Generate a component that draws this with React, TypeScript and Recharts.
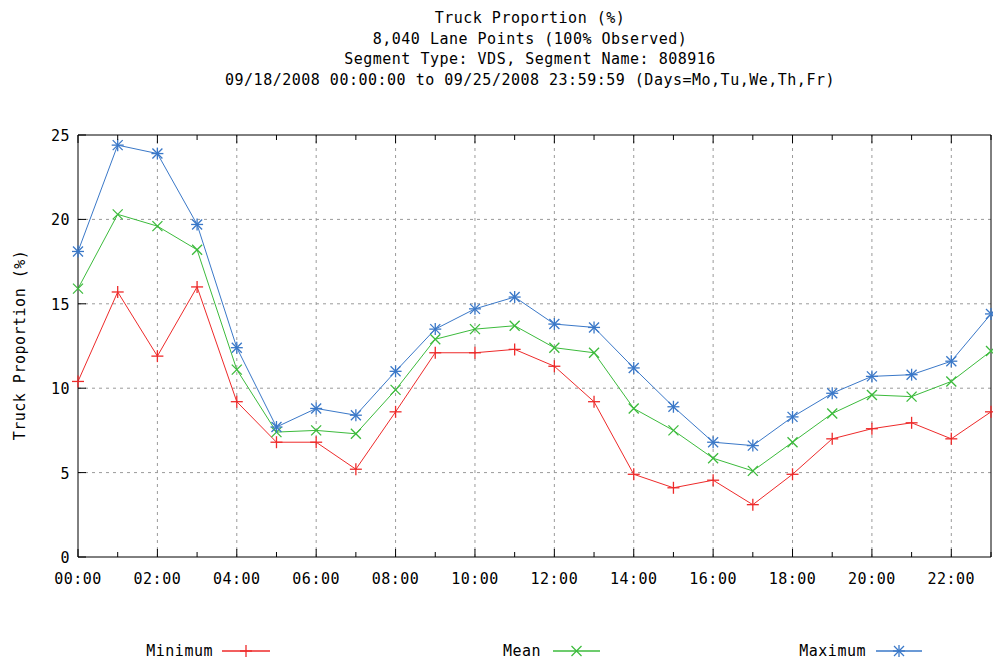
import React from 'react';
import { LineChart, Line, XAxis, YAxis, ReferenceLine } from 'recharts';

const hours = [0, 1, 2, 3, 4, 5, 6, 7, 8, 9, 10, 11, 12, 13, 14, 15, 16, 17, 18, 19, 20, 21, 22, 23];
const minimum = [10.4, 15.7, 11.9, 16.0, 9.2, 6.8, 6.8, 5.2, 8.6, 12.1, 12.1, 12.3, 11.3, 9.2, 4.9, 4.1, 4.55, 3.1, 4.9, 7.0, 7.6, 7.95, 7.0, 8.6];
const mean = [15.9, 20.3, 19.6, 18.2, 11.1, 7.4, 7.5, 7.3, 9.9, 12.9, 13.5, 13.7, 12.4, 12.1, 8.8, 7.5, 5.85, 5.1, 6.8, 8.5, 9.6, 9.5, 10.4, 12.2];
const maximum = [18.1, 24.4, 23.9, 19.7, 12.4, 7.7, 8.8, 8.4, 11.0, 13.5, 14.7, 15.4, 13.8, 13.6, 11.2, 8.9, 6.8, 6.6, 8.3, 9.7, 10.7, 10.8, 11.6, 14.4];
const yTicks = [0, 5, 10, 15, 20, 25];
const gridY = [5, 10, 15, 20];
const gridX = [2, 4, 6, 8, 10, 12, 14, 16, 18, 20, 22];
const titleLines = [
  'Truck Proportion (%)',
  '8,040 Lane Points (100% Observed)',
  'Segment Type: VDS, Segment Name: 808916',
  '09/18/2008 00:00:00 to 09/25/2008 23:59:59 (Days=Mo,Tu,We,Th,Fr)',
];
const seriesNames = ['Minimum', 'Mean', 'Maximum'];

const RED = '#ee2a2a';
const GREEN = '#3cbb3c';
const BLUE = '#3a78c8';
const FONT = "'DejaVu Sans Mono', monospace";
const FS = 15;
const LS = 0.5;

const hourLabel = (h: number) => (h < 10 ? '0' + h : '' + h) + ':00';

const data = hours.map((h, i) => ({ hour: h, min: minimum[i], mean: mean[i], max: maximum[i] }));

const PlusMark = ({ cx, cy, color }: any) => (
  <g stroke={color} strokeWidth={1.3}>
    <line x1={cx - 6} x2={cx + 6} y1={cy} y2={cy} />
    <line x1={cx} x2={cx} y1={cy - 6} y2={cy + 6} />
  </g>
);
const CrossMark = ({ cx, cy, color }: any) => (
  <g stroke={color} strokeWidth={1.3}>
    <line x1={cx - 5} x2={cx + 5} y1={cy - 5} y2={cy + 5} />
    <line x1={cx - 5} x2={cx + 5} y1={cy + 5} y2={cy - 5} />
  </g>
);
const StarMark = ({ cx, cy, color }: any) => (
  <g stroke={color} strokeWidth={1.3}>
    <line x1={cx - 6} x2={cx + 6} y1={cy} y2={cy} />
    <line x1={cx} x2={cx} y1={cy - 6} y2={cy + 6} />
    <line x1={cx - 5} x2={cx + 5} y1={cy - 5} y2={cy + 5} />
    <line x1={cx - 5} x2={cx + 5} y1={cy + 5} y2={cy - 5} />
  </g>
);

const BottomTick = (p: any) => {
  const { x, y, payload } = p;
  const v = payload.value;
  const major = v % 2 === 0;
  return (
    <g>
      <line x1={x} x2={x} y1={y} y2={y - (major ? 8 : 5)} stroke="#000" />
      {major && (
        <text x={x} y={y + 27} textAnchor="middle" fontFamily={FONT} fontSize={FS} letterSpacing={LS} fill="#000">
          {hourLabel(v)}
        </text>
      )}
    </g>
  );
};
const TopTick = (p: any) => {
  const { x, y, payload } = p;
  const major = payload.value % 2 === 0;
  return <line x1={x} x2={x} y1={y} y2={y + (major ? 8 : 5)} stroke="#000" />;
};
const LeftTick = (p: any) => {
  const { x, y, payload } = p;
  return (
    <g>
      <line x1={x} x2={x + 8} y1={y} y2={y} stroke="#000" />
      <text x={x - 8} y={y + 6} textAnchor="end" fontFamily={FONT} fontSize={FS} letterSpacing={LS} fill="#000">
        {payload.value}
      </text>
    </g>
  );
};
const RightTick = (p: any) => {
  const { x, y } = p;
  return <line x1={x} x2={x - 8} y1={y} y2={y} stroke="#000" />;
};

const legendItems = [
  { name: seriesNames[0], color: RED, Mark: PlusMark, textEnd: 213, lineStart: 222, lineEnd: 270 },
  { name: seriesNames[1], color: GREEN, Mark: CrossMark, textEnd: 541, lineStart: 553, lineEnd: 600 },
  { name: seriesNames[2], color: BLUE, Mark: StarMark, textEnd: 866, lineStart: 876, lineEnd: 922 },
];

export default function App() {
  return (
    <div style={{ position: 'absolute', left: 0, top: 0, width: 993, height: 661, background: '#fff' }}>
      {titleLines.map((t, i) => (
        <div
          key={i}
          style={{
            position: 'absolute',
            left: 0,
            width: 1060,
            top: 8 + i * 20.7,
            textAlign: 'center',
            fontFamily: FONT,
            fontSize: FS,
            letterSpacing: LS,
            lineHeight: '20px',
            whiteSpace: 'pre',
            color: '#000',
          }}
        >
          {t}
        </div>
      ))}
      <LineChart
        width={993}
        height={661}
        data={data}
        margin={{ top: 134, right: 1, bottom: 103, left: 77 }}
      >
        <XAxis
          xAxisId="bottom"
          dataKey="hour"
          type="number"
          domain={[0, 23]}
          ticks={hours}
          interval={0}
          height={1}
          tickSize={0}
          tickMargin={0}
          tick={<BottomTick />}
          axisLine={{ stroke: '#000' }}
          tickLine={false}
        />
        <XAxis
          xAxisId="top"
          orientation="top"
          dataKey="hour"
          type="number"
          domain={[0, 23]}
          ticks={hours}
          interval={0}
          height={1}
          tickSize={0}
          tickMargin={0}
          tick={<TopTick />}
          axisLine={{ stroke: '#000' }}
          tickLine={false}
        />
        <YAxis
          yAxisId="left"
          type="number"
          domain={[0, 25]}
          ticks={yTicks}
          interval={0}
          width={1}
          tickSize={0}
          tickMargin={0}
          tick={<LeftTick />}
          axisLine={{ stroke: '#000' }}
          tickLine={false}
        />
        <YAxis
          yAxisId="right"
          orientation="right"
          type="number"
          domain={[0, 25]}
          ticks={yTicks}
          interval={0}
          width={1}
          tickSize={0}
          tickMargin={0}
          tick={<RightTick />}
          axisLine={{ stroke: '#000' }}
          tickLine={false}
        />
        {gridX.map((g) => (
          <ReferenceLine key={'gx' + g} x={g} xAxisId="bottom" yAxisId="left" stroke="#9a9a9a" strokeDasharray="3 4" />
        ))}
        {gridY.map((g) => (
          <ReferenceLine key={'gy' + g} y={g} xAxisId="bottom" yAxisId="left" stroke="#9a9a9a" strokeDasharray="3 4" />
        ))}
        <Line
          xAxisId="bottom"
          yAxisId="left"
          dataKey="min"
          name={seriesNames[0]}
          stroke={RED}
          strokeWidth={1}
          isAnimationActive={false}
          dot={(p: any) => <PlusMark key={'a' + p.index} cx={p.cx} cy={p.cy} color={RED} />}
          activeDot={false}
        />
        <Line
          xAxisId="bottom"
          yAxisId="left"
          dataKey="mean"
          name={seriesNames[1]}
          stroke={GREEN}
          strokeWidth={1}
          isAnimationActive={false}
          dot={(p: any) => <CrossMark key={'b' + p.index} cx={p.cx} cy={p.cy} color={GREEN} />}
          activeDot={false}
        />
        <Line
          xAxisId="bottom"
          yAxisId="left"
          dataKey="max"
          name={seriesNames[2]}
          stroke={BLUE}
          strokeWidth={1}
          isAnimationActive={false}
          dot={(p: any) => <StarMark key={'c' + p.index} cx={p.cx} cy={p.cy} color={BLUE} />}
          activeDot={false}
        />
      </LineChart>
      <svg
        width={20}
        height={300}
        style={{ position: 'absolute', left: 10, top: 195 }}
      >
        <text
          x={15}
          y={150}
          transform="rotate(-90 15 150)"
          textAnchor="middle"
          fontFamily={FONT}
          fontSize={FS}
          letterSpacing={LS}
          fill="#000"
        >
          Truck Proportion (%)
        </text>
      </svg>
      <svg width={993} height={30} style={{ position: 'absolute', left: 0, top: 636 }}>
        {legendItems.map((it) => (
          <g key={it.name}>
            <text x={it.textEnd} y={20} textAnchor="end" fontFamily={FONT} fontSize={FS} letterSpacing={LS} fill="#000">
              {it.name}
            </text>
            <line x1={it.lineStart} x2={it.lineEnd} y1={15} y2={15} stroke={it.color} strokeWidth={1.3} />
            <it.Mark cx={(it.lineStart + it.lineEnd) / 2} cy={15} color={it.color} />
          </g>
        ))}
      </svg>
    </div>
  );
}
